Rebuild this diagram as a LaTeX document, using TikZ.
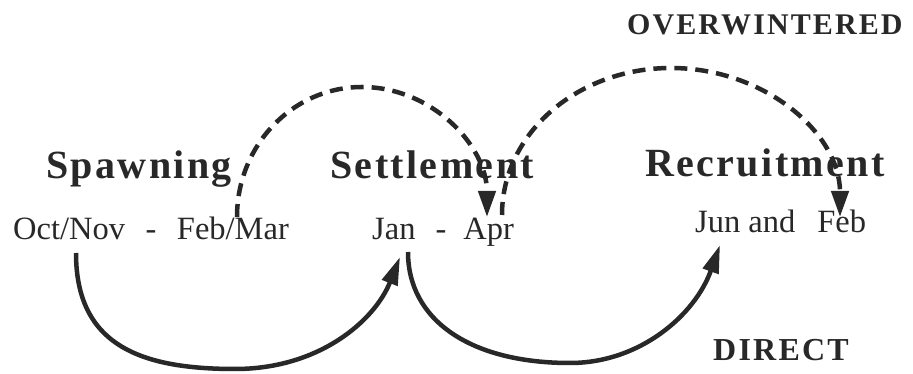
\documentclass[tikz,border=0pt]{standalone}
\usepackage{fontspec}
\setmainfont{Liberation Serif}
\newfontfamily\ttlfont{Liberation Serif}[LetterSpace=6]
\newfontfamily\capfont{Liberation Serif}[LetterSpace=7]
\usetikzlibrary{arrows.meta}
\definecolor{ink}{RGB}{40,40,40}
\begin{document}
\begin{tikzpicture}[x=1pt,y=1pt,
  title/.style={anchor=base west, inner sep=0pt, text=ink, font=\ttlfont\bfseries\fontsize{40pt}{44pt}\selectfont},
  caption/.style={anchor=base west, inner sep=0pt, text=ink, font=\capfont\bfseries\fontsize{30pt}{34pt}\selectfont},
  datelabel/.style={anchor=base west, inner sep=0pt, text=ink, font=\fontsize{32.5pt}{36pt}\selectfont},
  solidarrow/.style={draw=ink, line width=4.5pt, -{Triangle[length=28pt,width=16pt]}},
  dasharrow/.style={draw=ink, line width=4.5pt, dash pattern=on 13pt off 8pt, -{Triangle[length=26pt,width=17pt]}}]
\useasboundingbox (0,0) rectangle (913,374);
% texts
\node[caption] (over) at (627,339) {OVERWINTERED};
\node[title] (spawn) at (46,195) {Spawning};
\node[title] (settle) at (330,195) {Settlement};
\node[title] (recruit) at (645,197) {Recruitment};
\node[datelabel] (spawndate) at (13,134) {Oct/Nov\hspace{20.5pt}-\hspace{20.5pt}Feb/Mar};
\node[datelabel] (settledate) at (372,134) {Jan\hspace{20pt}-\hspace{17pt}Apr};
\node[datelabel] (recdate) at (695,141) {Jun and\hspace{22pt}Feb};
\node[anchor=base west, inner sep=0pt, text=ink, font=\capfont\bfseries\fontsize{32pt}{36pt}\selectfont] (direct) at (713,13) {DIRECT};
% connector ends
\coordinate (a1s) at (76,121);
\coordinate (a1b) at (235,5);
\coordinate (a1e) at (400,117);
\coordinate (a2s) at (408,122);
\coordinate (a2b) at (570,11);
\coordinate (a2e) at (720,129);
\coordinate (d1s) at (237,157);
\coordinate (d1t) at (362,287);
\coordinate (d1e) at (487,157);
\coordinate (d2s) at (502,159);
\coordinate (d2t) at (671,306);
\coordinate (d2e) at (840,157);
% direct (solid)
\draw[solidarrow] (a1s) .. controls (76,29) and (140,5) .. (a1b) .. controls (320,5) and (375,54) .. (a1e);
\draw[solidarrow] (a2s) .. controls (408,54) and (470,11) .. (a2b) .. controls (640,11) and (695,59) .. (a2e);
% overwintered (dashed)
\draw[dasharrow] (d1s) .. controls (237,229) and (293,287) .. (d1t) .. controls (431,287) and (487,229) .. (d1e);
\draw[dasharrow] (d2s) .. controls (502,241) and (578,306) .. (d2t) .. controls (764,306) and (840,241) .. (d2e);
\end{tikzpicture}
\end{document}
